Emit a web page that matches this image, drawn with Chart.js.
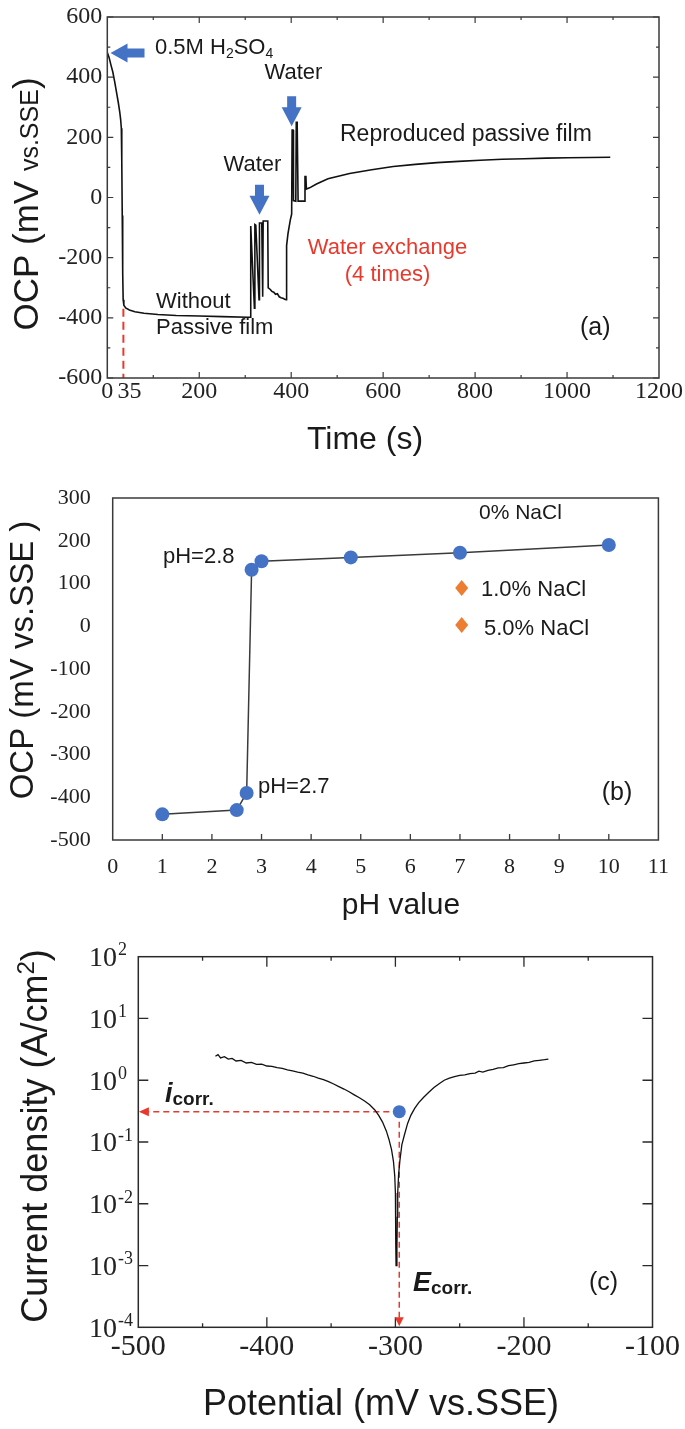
<!DOCTYPE html>
<html><head><meta charset="utf-8">
<script src="https://cdn.jsdelivr.net/npm/chart.js@4.4.1/dist/chart.umd.min.js"></script>
<style>
html,body{margin:0;padding:0;background:#fff;}
#wrap{position:relative;width:685px;height:1429px;background:#fff;}
canvas{position:absolute;left:0;}
</style></head><body>
<div id="wrap">
<canvas id="ca" width="685" height="465" style="top:0px;width:685px;height:465px"></canvas>
<canvas id="cb" width="685" height="460" style="top:465px;width:685px;height:460px"></canvas>
<canvas id="cc" width="685" height="504" style="top:925px;width:685px;height:504px"></canvas>
</div>
<script>
// ---------------- Panel (a): OCP vs time ----------------
const aTime = [0,4,8,12,16,20,24,27,29,30.5,31.5,32.5,33.5,34.5,36,40,48,60,80,110,150,200,250,305,
  311,312,320,321,323,330,331,336,338,339,349,350,354,358,362,366,370,374,378,382,386,389,
  390,393,398,401,402,404,405,410,411,413,415,429,430,432,433,440,455,480,527,575,622,670,717,764,811,859,907,955,1002,1050,1094];
const aOcp = [482,465,440,417,385,350,315,285,260,230,120,-60,-250,-340,-358,-367,-374,-380,-385,-389,-392,-394,-396,-398,
  -398,-95,-368,-90,-92,-340,-85,-85,-330,-78,-78,-300,-305,-312,-315,-322,-320,-330,-333,-335,-338,-340,
  -160,-120,-75,-55,224,224,-10,-12,250,250,-12,-12,70,70,28,32,45,62,80,92,103,110,116,120,124,127,129,131,132,133,134];
const aMarkerTime = [35, 35];
const aMarkerOcp = [-370, -600];
const aTickLabelsX = [0,35,200,400,600,800,1000,1200];
const aMajorX = [200,400,600,800,1000];
const aMinorX = [100,300,500,700,900,1100];
const aTicksY = [-600,-400,-200,0,200,400,600];
const aMinorY = [-500,-300,-100,100,300,500];

// ---------------- Panel (b): OCP vs pH ----------------
const bPh = [1,2.5,2.7,2.8,3,4.8,7,10];
const bOcp = [-440,-430,-390,132,152,161,172,190];
const bTicksX = [0,1,2,3,4,5,6,7,8,9,10,11];
const bTicksY = [-500,-400,-300,-200,-100,0,100,200,300];
const bLegend = ['1.0% NaCl','5.0% NaCl'];

// ---------------- Panel (c): polarization curve ----------------
const cPotential = [-440,-438,-436,-433,-430,-427,-424,-420,-416,-412,-408,-404,-400,-396,-392,-388,-384,-380,-376,-372,
  -368,-364,-360,-356,-352,-348,-344,-340,-336,-332,-328,-324,-320,-316,-313,-310,-307,-305,-303,-301.5,-300.5,-300,-299.8,-299.6,-299.5,
  -298.8,-298.5,-298.2,-297.5,-296.5,-295,-293,-290.5,-288,-285,-282,-278,-274,-270,-266,-262,-258,-254,-250,-246,-242,-238,-235,-232,
  -228,-224,-220,-216,-212,-208,-204,-200,-196,-192,-188,-184,-181];
const cCurrent = [2.45,2.6,2.3,2.4,2.2,2.25,2.05,2.1,1.9,1.95,1.8,1.82,1.7,1.68,1.6,1.55,1.47,1.42,1.35,1.3,
  1.22,1.16,1.08,1.02,0.95,0.87,0.79,0.72,0.65,0.58,0.52,0.46,0.40,0.33,0.27,0.21,0.15,0.11,0.075,0.048,0.028,0.015,0.006,0.002,0.001,
  0.002,0.006,0.015,0.03,0.05,0.09,0.13,0.2,0.27,0.35,0.43,0.53,0.64,0.76,0.88,1.0,1.08,1.14,1.2,1.22,1.28,1.3,1.4,1.35,
  1.45,1.5,1.58,1.6,1.72,1.78,1.85,1.9,1.95,2.05,2.1,2.15,2.2];
const cEcorr = -297;
const cIcorr = 0.31;
const cTicksX = [-500,-400,-300,-200,-100];
const cMinorX = [-450,-350,-250,-150];
const cExponents = [-4,-3,-2,-1,0,1,2];

// ---------------- helpers ----------------
Chart.defaults.font.family = "'Liberation Serif','Times New Roman',serif";
Chart.defaults.color = '#222';
const SANS = "'Liberation Sans',Arial,Helvetica,sans-serif";
const SERIF = "'Liberation Serif','Times New Roman',serif";
const BLUE = '#4472c4';
const RED = '#e8392c';

function drawRuns(ctx, runs, x, y, align) {
  let total = 0;
  runs.forEach(r => { ctx.font = r.font; r.w = ctx.measureText(r.t).width; total += r.w; });
  let cx = align === 'center' ? x - total / 2 : (align === 'right' ? x - total : x);
  ctx.textBaseline = 'alphabetic';
  ctx.textAlign = 'left';
  runs.forEach(r => { ctx.font = r.font; ctx.fillStyle = r.color || '#1a1a1a'; ctx.fillText(r.t, cx, y + (r.dy || 0)); cx += r.w; });
}
function text(ctx, t, x, y, size, opts) {
  opts = opts || {};
  ctx.font = (opts.style || '') + ' ' + size + 'px ' + (opts.family || SANS);
  ctx.fillStyle = opts.color || '#1a1a1a';
  ctx.textAlign = opts.align || 'left';
  ctx.textBaseline = 'middle';
  ctx.fillText(t, x, y);
}
function rotated(ctx, runs, bx, cy) {
  ctx.save(); ctx.translate(bx, cy); ctx.rotate(-Math.PI / 2);
  drawRuns(ctx, runs, 0, 0, 'center');
  ctx.restore();
}
function frame(o) {
  return { id: 'frame', afterDatasetsDraw(chart) {
    const { ctx, chartArea: a, scales: { x, y } } = chart;
    ctx.save();
    ctx.strokeStyle = o.color; ctx.lineWidth = o.width;
    ctx.strokeRect(a.left, a.top, a.right - a.left, a.bottom - a.top);
    ctx.lineWidth = o.tickWidth || o.width;
    ctx.beginPath();
    const xt = (vals, len) => (vals || []).forEach(v => {
      const p = x.getPixelForValue(v);
      ctx.moveTo(p, a.bottom); ctx.lineTo(p, a.bottom - len);
      if (o.mirror) { ctx.moveTo(p, a.top); ctx.lineTo(p, a.top + len); }
    });
    const yt = (vals, len) => (vals || []).forEach(v => {
      const p = y.getPixelForValue(v);
      ctx.moveTo(a.left, p); ctx.lineTo(a.left + len, p);
      if (o.mirror) { ctx.moveTo(a.right, p); ctx.lineTo(a.right - len, p); }
    });
    xt(o.xMajor, o.major); xt(o.xMinor, o.minor);
    yt(o.yMajor, o.major); yt(o.yMinor, o.minor);
    ctx.stroke();
    ctx.restore();
  } };
}
function arrowShape(ctx, tx, ty, dir, headLen, headHalf, shaftHalf, shaftLen, color) {
  const [dx, dy] = dir; const nx = -dy, ny = dx;
  const bx = tx - dx * headLen, by = ty - dy * headLen;
  const ex = bx - dx * shaftLen, ey = by - dy * shaftLen;
  ctx.beginPath();
  ctx.moveTo(tx, ty);
  ctx.lineTo(bx + nx * headHalf, by + ny * headHalf);
  ctx.lineTo(bx + nx * shaftHalf, by + ny * shaftHalf);
  ctx.lineTo(ex + nx * shaftHalf, ey + ny * shaftHalf);
  ctx.lineTo(ex - nx * shaftHalf, ey - ny * shaftHalf);
  ctx.lineTo(bx - nx * shaftHalf, by - ny * shaftHalf);
  ctx.lineTo(bx - nx * headHalf, by - ny * headHalf);
  ctx.closePath();
  ctx.fillStyle = color; ctx.fill();
}
const common = { responsive: false, animation: false, events: [],
  plugins: { legend: { display: false }, tooltip: { enabled: false } } };

// ---------------- Chart (a) ----------------
const aArrows = [
  { t: 7, v: 480, dir: [-1, 0] },
  { t: 401, v: 237, dir: [0, 1] },
  { t: 331, v: -57, dir: [0, 1] }
];
new Chart(document.getElementById('ca'), {
  type: 'line',
  data: { datasets: [
    { data: aTime.map((t, i) => ({ x: t, y: aOcp[i] })), borderColor: '#111', borderWidth: 1.6, pointRadius: 0, tension: 0 },
    { data: aMarkerTime.map((t, i) => ({ x: t, y: aMarkerOcp[i] })), borderColor: RED, borderWidth: 2, borderDash: [8, 5], pointRadius: 0 }
  ] },
  options: Object.assign({}, common, {
    layout: { padding: { left: 0, right: 25, top: 12, bottom: 0 } },
    scales: {
      x: { type: 'linear', min: 0, max: 1200, grid: { display: false, drawTicks: false }, border: { display: false },
        afterBuildTicks: s => { s.ticks = aTickLabelsX.map(v => ({ value: v })); },
        afterFit: s => { s.height = 87; },
        ticks: { autoSkip: false, maxRotation: 0, padding: 2, color: '#222', font: { size: 24, lineHeight: 1 },
          callback: v => (v === 35 ? '  35' : String(v)) } },
      y: { type: 'linear', min: -600, max: 600, grid: { display: false, drawTicks: false }, border: { display: false },
        afterBuildTicks: s => { s.ticks = aTicksY.map(v => ({ value: v })); },
        afterFit: s => { s.width = 107.3; },
        ticks: { autoSkip: false, padding: 5, color: '#222', font: { size: 24, lineHeight: 1 }, callback: v => String(v) } }
    }
  }),
  plugins: [
    frame({ color: '#3a3a3a', width: 1.5, tickWidth: 1.2, mirror: true, major: 6, minor: 3,
      xMajor: aMajorX, xMinor: aMinorX, yMajor: aTicksY, yMinor: aMinorY }),
    { id: 'annA', afterDraw(chart) {
      const ctx = chart.ctx, x = chart.scales.x, y = chart.scales.y;
      aArrows.forEach(a => {
        const px = x.getPixelForValue(a.t), py = y.getPixelForValue(a.v);
        if (a.dir[0] !== 0) arrowShape(ctx, px, py, a.dir, 17, 9.5, 4.5, 17, BLUE);
        else arrowShape(ctx, px, py, a.dir, 19, 10, 4.5, 11, BLUE);
      });
      const f = '22px ' + SANS, fs = '14px ' + SANS;
      drawRuns(ctx, [{ t: '0.5M H', font: f }, { t: '2', font: fs, dy: 4 }, { t: 'SO', font: f }, { t: '4', font: fs, dy: 4 }], 155, 54, 'left');
      text(ctx, 'Water', 293.5, 73, 22, { align: 'center' });
      text(ctx, 'Water', 252.5, 165, 22, { align: 'center' });
      text(ctx, 'Reproduced passive film', 340, 135, 23);
      text(ctx, 'Water exchange', 387.5, 248, 22, { align: 'center', color: RED });
      text(ctx, '(4 times)', 387.5, 275, 22, { align: 'center', color: RED });
      text(ctx, 'Without', 156, 302, 22);
      text(ctx, 'Passive film', 156, 328, 22);
      text(ctx, '(a)', 580, 328, 25);
      text(ctx, 'Time (s)', 365, 440, 32, { align: 'center' });
      rotated(ctx, [{ t: 'OCP (mV ', font: '35px ' + SANS }, { t: 'vs.SSE', font: '25px ' + SANS }, { t: ')', font: '35px ' + SANS }], 38, 204);
    } }
  ]
});

// ---------------- Chart (b) ----------------
new Chart(document.getElementById('cb'), {
  type: 'line',
  data: { datasets: [
    { data: bPh.map((p, i) => ({ x: p, y: bOcp[i] })), borderColor: '#3a3a3a', borderWidth: 1.5,
      pointRadius: 7, pointBackgroundColor: BLUE, pointBorderColor: BLUE, pointBorderWidth: 0, tension: 0 }
  ] },
  options: Object.assign({}, common, {
    layout: { padding: { left: 0, right: 25, top: 11, bottom: 0 } },
    scales: {
      x: { type: 'linear', min: 0, max: 11, grid: { display: false, drawTicks: false }, border: { display: false },
        afterBuildTicks: s => { s.ticks = bTicksX.map(v => ({ value: v })); },
        afterFit: s => { s.height = 85; },
        ticks: { autoSkip: false, maxRotation: 0, padding: 16, color: '#222', font: { size: 22, lineHeight: 1 } } },
      y: { type: 'linear', min: -500, max: 300, grid: { display: false, drawTicks: false }, border: { display: false },
        afterBuildTicks: s => { s.ticks = bTicksY.map(v => ({ value: v })); },
        afterFit: s => { s.width = 112.7; },
        ticks: { autoSkip: false, padding: 22, color: '#222', font: { size: 22, lineHeight: 1 } } }
    }
  }),
  plugins: [
    frame({ color: '#3a3a3a', width: 1.5, tickWidth: 1.3, mirror: false, major: 6, minor: 0,
      xMajor: bTicksX.slice(1, -1) }),
    { id: 'annB', afterDraw(chart) {
      const ctx = chart.ctx;
      text(ctx, '0% NaCl', 479, 48, 21);
      text(ctx, 'pH=2.8', 163, 92, 22);
      text(ctx, 'pH=2.7', 258, 322, 22);
      text(ctx, '(b)', 601.7, 328, 25);
      bLegend.forEach((lab, i) => {
        const cy = 123 + i * 37, cx = 461.7;
        ctx.beginPath(); ctx.moveTo(cx, cy - 8); ctx.lineTo(cx + 6.5, cy); ctx.lineTo(cx, cy + 8); ctx.lineTo(cx - 6.5, cy); ctx.closePath();
        ctx.fillStyle = '#ed7d31'; ctx.fill();
        text(ctx, lab, 481 + i * 3, 128 + i * 39 - 3, 22);
      });
      text(ctx, 'pH value', 401, 441, 30, { align: 'center' });
      rotated(ctx, [{ t: 'OCP (mV vs.SSE )', font: '33px ' + SANS }], 33, 195);
    } }
  ]
});

// ---------------- Chart (c) ----------------
new Chart(document.getElementById('cc'), {
  type: 'line',
  data: { datasets: [
    { data: [{ x: cEcorr, y: cIcorr }], showLine: false, pointRadius: 6.5, pointBackgroundColor: BLUE, pointBorderWidth: 0 },
    { data: cPotential.map((p, i) => ({ x: p, y: cCurrent[i] })), borderColor: '#111', borderWidth: 1.3, pointRadius: 0, tension: 0 },
    { data: [{ x: cEcorr, y: cIcorr }, { x: -498, y: cIcorr }], borderColor: RED, borderWidth: 1.5, borderDash: [6, 4], pointRadius: 0 },
    { data: [{ x: cEcorr, y: cIcorr }, { x: cEcorr, y: 1.2e-4 }], borderColor: RED, borderWidth: 1.5, borderDash: [6, 4], pointRadius: 0 }
  ] },
  options: Object.assign({}, common, {
    layout: { padding: { left: 0, right: 29, top: 31.7, bottom: 0 } },
    scales: {
      x: { type: 'linear', min: -500, max: -100, grid: { display: false, drawTicks: false }, border: { display: false },
        afterBuildTicks: s => { s.ticks = cTicksX.map(v => ({ value: v })); },
        afterFit: s => { s.height = 101.7; },
        ticks: { autoSkip: false, maxRotation: 0, padding: 5, color: '#222', font: { size: 30, lineHeight: 1 } } },
      y: { type: 'logarithmic', min: 1e-4, max: 100, grid: { display: false, drawTicks: false }, border: { display: false },
        afterBuildTicks: s => { s.ticks = cExponents.map(e => ({ value: Math.pow(10, e) })); },
        afterFit: s => { s.width = 138.3; },
        ticks: { display: false } }
    }
  }),
  plugins: [
    frame({ color: '#2a2a2a', width: 1.5, tickWidth: 1.3, mirror: true, major: 10, minor: 4,
      xMajor: cTicksX.slice(1, -1), xMinor: cMinorX, yMajor: cExponents.slice(1, -1).map(e => Math.pow(10, e)) }),
    { id: 'annC', afterDraw(chart) {
      const ctx = chart.ctx, x = chart.scales.x, y = chart.scales.y;
      cExponents.forEach(e => {
        const py = y.getPixelForValue(Math.pow(10, e));
        ctx.font = '28px ' + SERIF; ctx.fillStyle = '#222'; ctx.textAlign = 'left'; ctx.textBaseline = 'middle';
        ctx.fillText('10', 89, py + 2);
        const w = ctx.measureText('10').width;
        ctx.font = '18px ' + SERIF;
        ctx.fillText(String(e), 89 + w + 1, py - 6);
      });
      ctx.fillStyle = RED;
      const hx = x.getPixelForValue(-498), hy = y.getPixelForValue(cIcorr);
      ctx.beginPath(); ctx.moveTo(hx - 2, hy); ctx.lineTo(hx + 8, hy - 4.5); ctx.lineTo(hx + 8, hy + 4.5); ctx.closePath(); ctx.fill();
      const vx = x.getPixelForValue(cEcorr), vy = y.getPixelForValue(1e-4);
      ctx.beginPath(); ctx.moveTo(vx, vy - 1); ctx.lineTo(vx - 4.5, vy - 10); ctx.lineTo(vx + 4.5, vy - 10); ctx.closePath(); ctx.fill();
      drawRuns(ctx, [{ t: 'i', font: 'italic bold 27px ' + SANS }, { t: 'corr.', font: 'bold 19px ' + SANS, dy: 3 }], 165, 177, 'left');
      drawRuns(ctx, [{ t: 'E', font: 'italic bold 27px ' + SANS }, { t: 'corr.', font: 'bold 19px ' + SANS, dy: 3 }], 413, 366, 'left');
      text(ctx, '(c)', 589, 358, 25);
      text(ctx, 'Potential (mV vs.SSE)', 381, 480, 36, { align: 'center' });
      rotated(ctx, [{ t: 'Current density (A/cm', font: '36px ' + SANS }, { t: '2', font: '24px ' + SANS, dy: -13 }, { t: ')', font: '36px ' + SANS }], 47, 211);
    } }
  ]
});
</script>
</body></html>
